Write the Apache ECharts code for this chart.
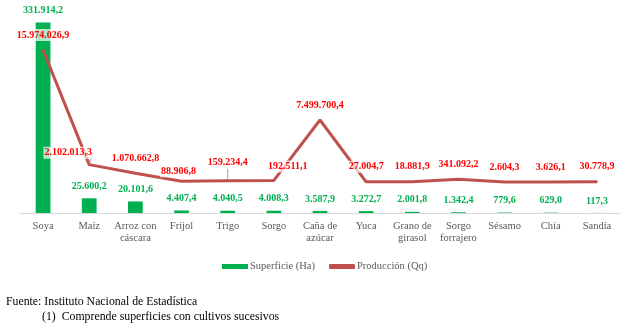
<!DOCTYPE html>
<html>
<head>
<meta charset="utf-8">
<script src="https://cdn.jsdelivr.net/npm/echarts@6/dist/echarts.min.js"></script>
<style>html,body{margin:0;padding:0;background:#fff}#c{width:643px;height:326px}</style>
</head>
<body>
<div id="c"></div>
<script>
var categories = ['Soya','Maíz','Arroz con\ncáscara','Frijol','Trigo','Sorgo','Caña de\nazúcar','Yuca','Grano de\ngirasol','Sorgo\nforrajero','Sésamo','Chía','Sandía'];
var superficie = [331914.2, 25600.2, 20101.6, 4407.4, 4040.5, 4008.3, 3587.9, 3272.7, 2001.8, 1342.4, 779.6, 629.0, 117.3];
var produccion = [15974026.9, 2102013.3, 1070662.8, 88906.8, 159234.4, 192511.1, 7499700.4, 27004.7, 18881.9, 341092.2, 2604.3, 3626.1, 30778.9];

var lineLabelShift = {1: [-21, 3], 3: [-3, 5], 4: [0, -3], 5: [14, 1]};
var leaderIdx = {1: true, 4: true};
var FONT = 'Liberation Serif';

function fmt(v) {
  var s = v.toFixed(1).split('.');
  var ip = s[0].replace(/\B(?=(\d{3})+(?!\d))/g, '.');
  return ip + ',' + s[1];
}

var lineData = produccion.map(function (v, i) {
  return leaderIdx[i] ? {value: v, labelLine: {show: true, lineStyle: {color: '#A6A6A6', width: 1}}} : {value: v, labelLine: {show: false}};
});

var chart = echarts.init(document.getElementById('c'), null, {renderer: 'canvas'});
chart.setOption({
  animation: false,
  grid: {left: 20, right: 23, top: 12, bottom: 113, containLabel: false},
  legend: {
    left: 217, top: 256, itemGap: 14, itemWidth: 26, itemHeight: 5,
    textStyle: {fontFamily: FONT, fontSize: 10.5, color: '#595959', padding: [0, 0, 0, -3]},
    data: [
      {name: 'Superficie (Ha)', icon: 'rect', itemStyle: {color: '#00B050'}},
      {name: 'Producción (Qq)', icon: 'roundRect', itemStyle: {color: '#C0504D', opacity: 1}}
    ]
  },
  xAxis: {
    type: 'category', data: categories,
    axisTick: {show: false},
    axisLine: {lineStyle: {color: '#D9D9D9', width: 1}},
    axisLabel: {interval: 0, margin: 7, fontFamily: FONT, fontSize: 10.5, color: '#595959', lineHeight: 12}
  },
  yAxis: [
    {type: 'value', min: 0, max: 350000, show: false, splitLine: {show: false}},
    {type: 'value', min: -3751000, max: 20570000, show: false, splitLine: {show: false}}
  ],
  series: [
    {
      name: 'Superficie (Ha)', type: 'bar', yAxisIndex: 0, barWidth: '32%',
      data: superficie,
      itemStyle: {color: '#00B050'},
      label: {show: true, position: 'top', distance: 7, fontFamily: FONT, fontSize: 10, fontWeight: 'bold', color: '#00B050',
        formatter: function (p) { return fmt(p.value); }}
    },
    {
      name: 'Producción (Qq)', type: 'line', yAxisIndex: 1, symbol: 'circle', symbolSize: 2, showSymbol: true,
      data: lineData,
      lineStyle: {color: '#C0504D', width: 3},
      itemStyle: {color: '#C0504D'},
      label: {show: true, position: 'top', distance: 8, fontFamily: FONT, fontSize: 10, fontWeight: 'bold', color: '#FF0000',
        backgroundColor: 'rgba(255,255,255,0.7)', padding: [1, 1],
        formatter: function (p) { return fmt(p.value); }},
      labelLayout: function (p) {
        var s = lineLabelShift[p.dataIndex];
        return s ? {dx: s[0], dy: s[1]} : {};
      },
      z: 3
    }
  ],
  graphic: [
    {type: 'text', left: 6, top: 296, style: {text: 'Fuente: Instituto Nacional de Estadística', font: '11.8px "Liberation Serif"', fill: '#000'}},
    {type: 'text', left: 42, top: 311, style: {text: '(1)  Comprende superficies con cultivos sucesivos', font: '11.8px "Liberation Serif"', fill: '#000'}}
  ]
});
</script>
</body>
</html>
